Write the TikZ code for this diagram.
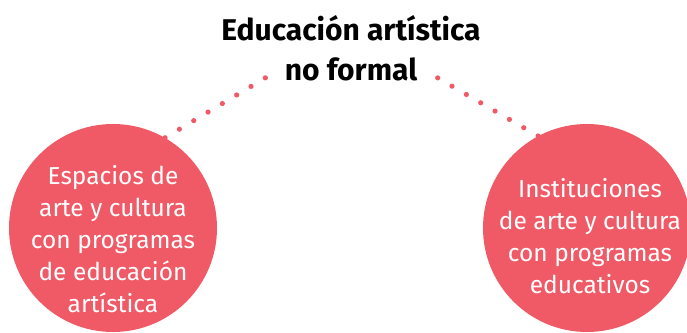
\documentclass[tikz,border=0pt]{standalone}
\usepackage{fontspec}
\setmainfont{Fira Sans}
\definecolor{rosa1}{RGB}{239, 90, 102}
\usetikzlibrary{calc}

\begin{document}
\begin{tikzpicture}[x=1pt, y=1pt,
  circulo/.style={circle, fill=rosa1, minimum size=208pt, inner sep=0pt},
  circtexto/.style={text=white, align=center, inner sep=0pt, font=\fontsize{24.5}{32}\selectfont},
  titulobox/.style={font=\fontsize{30}{40}\selectfont\bfseries, anchor=base},
  punto/.style={fill=rosa1}]
  \useasboundingbox (0,0) rectangle (687,332);
  \clip (0,0) rectangle (687,332);

  % Title
  \node[titulobox] (titulo) at (351, 291) {Educación artística};
  \node[titulobox] (noformal) at (351, 251) {no formal};

  % The two circles
  \node[circulo] (espacios) at (113, 104) {};
  \node[circtexto] (espaciostexto) at ([yshift=-11pt]espacios.center) {Espacios de\\arte y cultura\\con programas\\de educación\\artística};
  \node[circulo] (instituciones) at (587, 104) {};
  \node[circtexto] (institucionestexto) at ([shift={(3pt,-8pt)}]instituciones.center) {Instituciones\\de arte y cultura\\con programas\\educativos};

  % Dotted connectors
  \coordinate (izq) at ([shift={(-16pt,-8pt)}]noformal.west);
  \coordinate (der) at ([shift={(17pt,-8pt)}]noformal.east);
  \foreach \i in {0,...,7} {
    \fill[punto] ($(espacios.60)!\i/7!(izq)$) circle (2.6pt);
    \fill[punto] ($(instituciones.118)!\i/7!(der)$) circle (2.6pt);
  }
\end{tikzpicture}
\end{document}
